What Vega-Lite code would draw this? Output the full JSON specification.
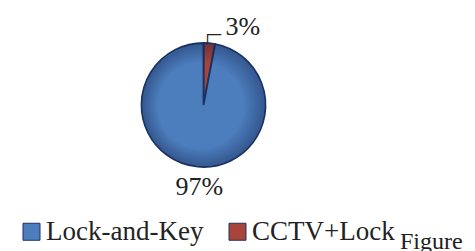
{
  "$schema": "https://vega.github.io/schema/vega-lite/v6.json",
  "width": 407,
  "height": 210,
  "autosize": {"type": "none"},
  "padding": {"left": 0, "top": 0, "right": 68, "bottom": 41},
  "background": "white",
  "title": {"text": "Figure", "orient": "bottom", "anchor": "end", "align": "left", "baseline": "alphabetic", "dx": -7, "offset": 4, "font": "Liberation Serif", "fontSize": 24, "fontWeight": "normal", "color": "#222"},
  "data": {"values": [
    {"category": "CCTV+Lock", "value": 3, "label": "3%", "ord": 1},
    {"category": "Lock-and-Key", "value": 97, "label": "97%", "ord": 2}
  ]},
  "layer": [
    {
      "mark": {"type": "arc", "outerRadius": 62, "stroke": "#1b3263", "strokeWidth": 1.8},
      "encoding": {
        "theta": {"field": "value", "type": "quantitative", "stack": true},
        "order": {"field": "ord", "type": "quantitative"},
        "color": {
          "field": "category", "type": "nominal",
          "scale": {"domain": ["Lock-and-Key", "CCTV+Lock"], "range": ["#4c7dbd", "#a9443a"]},
          "legend": {
            "orient": "none", "legendX": 18, "legendY": 218, "direction": "horizontal", "title": null,
            "padding": 0,
            "symbolType": "square", "symbolSize": 289, "symbolStrokeColor": "#1b3263", "symbolStrokeWidth": 1,
            "labelFont": "Liberation Serif", "labelFontSize": 27, "labelColor": "#222", "labelOffset": 1,
            "columnPadding": 20
          }
        }
      }
    },
    {
      "transform": [{"aggregate": [{"op": "sum", "field": "value", "as": "total"}]}],
      "mark": {"type": "arc", "outerRadius": 61,
        "fill": {"gradient": "radial", "x1": 0.42, "y1": 0.52, "r1": 0, "x2": 0.5, "y2": 0.5, "r2": 0.5,
          "stops": [
            {"offset": 0, "color": "rgba(10,20,60,0)"},
            {"offset": 0.7, "color": "rgba(10,20,60,0)"},
            {"offset": 1, "color": "rgba(10,20,60,0.35)"}
          ]}
      },
      "encoding": {"theta": {"field": "total", "type": "quantitative"}}
    },
    {
      "transform": [{"filter": "datum.ord == 2"}],
      "mark": {"type": "text", "radius": 82, "dx": -12, "font": "Liberation Serif", "fontSize": 26, "color": "#222", "baseline": "middle", "align": "center"},
      "encoding": {
        "theta": {"field": "value", "type": "quantitative", "stack": true},
        "order": {"field": "ord", "type": "quantitative"},
        "text": {"field": "label"}
      }
    },
    {
      "transform": [{"filter": "datum.ord == 1"}],
      "mark": {"type": "text", "radius": 78, "dx": 32, "dy": 0, "font": "Liberation Serif", "fontSize": 26, "color": "#222", "baseline": "middle", "align": "center"},
      "encoding": {
        "theta": {"field": "value", "type": "quantitative", "stack": true},
        "order": {"field": "ord", "type": "quantitative"},
        "text": {"field": "label"}
      }
    },
    {
      "transform": [{"filter": "datum.ord == 1"}],
      "mark": {"type": "text", "text": "┌─", "radius": 70, "dx": -7, "dy": 5, "font": "DejaVu Sans Mono", "fontSize": 15, "color": "#222", "baseline": "alphabetic", "align": "left"},
      "encoding": {
        "theta": {"field": "value", "type": "quantitative", "stack": true},
        "order": {"field": "ord", "type": "quantitative"}
      }
    }
  ],
  "config": {"view": {"stroke": null}}
}
